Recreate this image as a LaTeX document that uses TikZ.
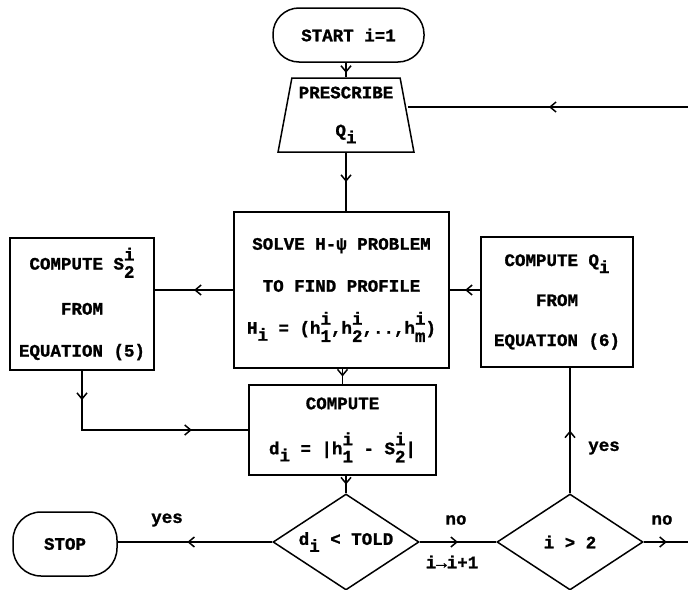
\documentclass[tikz,border=0pt]{standalone}
\usepackage{fontspec}
\newfontfamily\tw{Liberation Mono}[BoldFeatures={FakeBold=1.2}]
\usetikzlibrary{shapes.geometric,arrows.meta,decorations.markings,calc}
\newcommand\sbs[1]{\raisebox{-0.4em}{#1}}
\newcommand\sps[2]{\ooalign{\raisebox{0.52em}{#1}\cr\raisebox{-0.47em}{#2}}}
\tikzset{mytip/.tip={Straight Barb[length=6pt,width=10pt]}}
\begin{document}
\begin{tikzpicture}[x=1pt,y=-1pt,line width=1.5pt,
  every node/.style={font=\tw\bfseries\fontsize{17.5}{42}\selectfont},
  box/.style={draw,rectangle,inner sep=0pt,align=center},
  term/.style={draw,rectangle,inner sep=0pt,align=center},
  dia/.style={draw,diamond,aspect=1.5,inner sep=0pt,minimum width=146pt,minimum height=96pt},
  lbl/.style={inner sep=0pt},
  midarrow/.style={postaction={decorate,decoration={markings,
     mark=at position #1 with {\arrow{mytip}}}}},
  midarrow/.default=0.5,
  twoarrows/.style={postaction={decorate,decoration={markings,
     mark=at position 0.13 with {\arrow{mytip}},
     mark=at position 0.75 with {\arrow{mytip}}}}}]
\fill[white] (0,0) rectangle (688,589);
\useasboundingbox (0,0) rectangle (688,589);

\node[term,rounded corners=26pt,minimum width=151pt,minimum height=54pt] (start) at (348.5,35) {START i=1};
\node[draw,trapezium,trapezium stretches=true,trapezium left angle=78,trapezium right angle=78,
      minimum width=136pt,minimum height=74pt,inner sep=0pt,align=center] (presc) at (346,115)
      {PRESCRIBE\\[-4pt]Q\sbs{i}};
\node[box,minimum width=215pt,minimum height=156pt] (solve) at (341.5,290)
      {SOLVE H-ψ PROBLEM\\TO FIND PROFILE\\H\sbs{i} = (h\sps{i}{1},h\sps{i}{2},..,h\sps{i}{m})};
\node[box,minimum width=144pt,minimum height=132pt] (s2) at (82,304)
      {COMPUTE S\sps{i}{2}\\[3pt]FROM\\[0pt]EQUATION (5)};
\node[box,minimum width=152pt,minimum height=130pt] (q) at (557,302)
      {COMPUTE Q\sbs{i}\\[-2pt]FROM\\[-2pt]EQUATION (6)};
\node[box,minimum width=187pt,minimum height=90pt] (d) at (342.5,430)
      {COMPUTE\\[3pt]d\sbs{i} = |h\sps{i}{1} - S\sps{i}{2}|};
\node[dia] (dia1) at (346,542) {d\sbs{i} < TOLD};
\node[dia] (dia2) at (570,542) {i > 2};
\node[term,rounded corners=28pt,minimum width=104pt,minimum height=64pt] (stop) at (65,544) {STOP};

\node[lbl] (lyes1) at (167,520) {yes};
\node[lbl] (lno1) at (456,520) {no};
\node[lbl] (linc) at (452,562) {i→i+1};
\node[lbl] (lyes2) at (604,448) {yes};
\node[lbl] (lno2) at (662,520) {no};

\coordinate (rin) at (690,107);
\coordinate (rout) at (690,542);

\draw[midarrow=0.7] (start.south -| presc.north) -- (presc.north);
\draw[midarrow] (presc.south) -- (solve.north -| presc.south);
\draw[midarrow] (rin) -- (presc.east |- rin);
\draw[midarrow] (solve.west) -- (s2.east |- solve.west);
\draw[midarrow] (q.west |- solve.east) -- (solve.east);
\draw[twoarrows] (s2.south) |- (d.west);
\draw[midarrow] (solve.south -| d.north) -- (d.north);
\draw[midarrow] (dia1.north |- d.south) -- (dia1.north);
\draw[midarrow=0.55] (dia1.west) -- (stop.east |- dia1.west);
\draw[midarrow] (dia1.east) -- (dia2.west);
\draw[midarrow] (dia2.north) -- (q.south -| dia2.north);
\draw[midarrow] (dia2.east) -- (rout);
\end{tikzpicture}
\end{document}
